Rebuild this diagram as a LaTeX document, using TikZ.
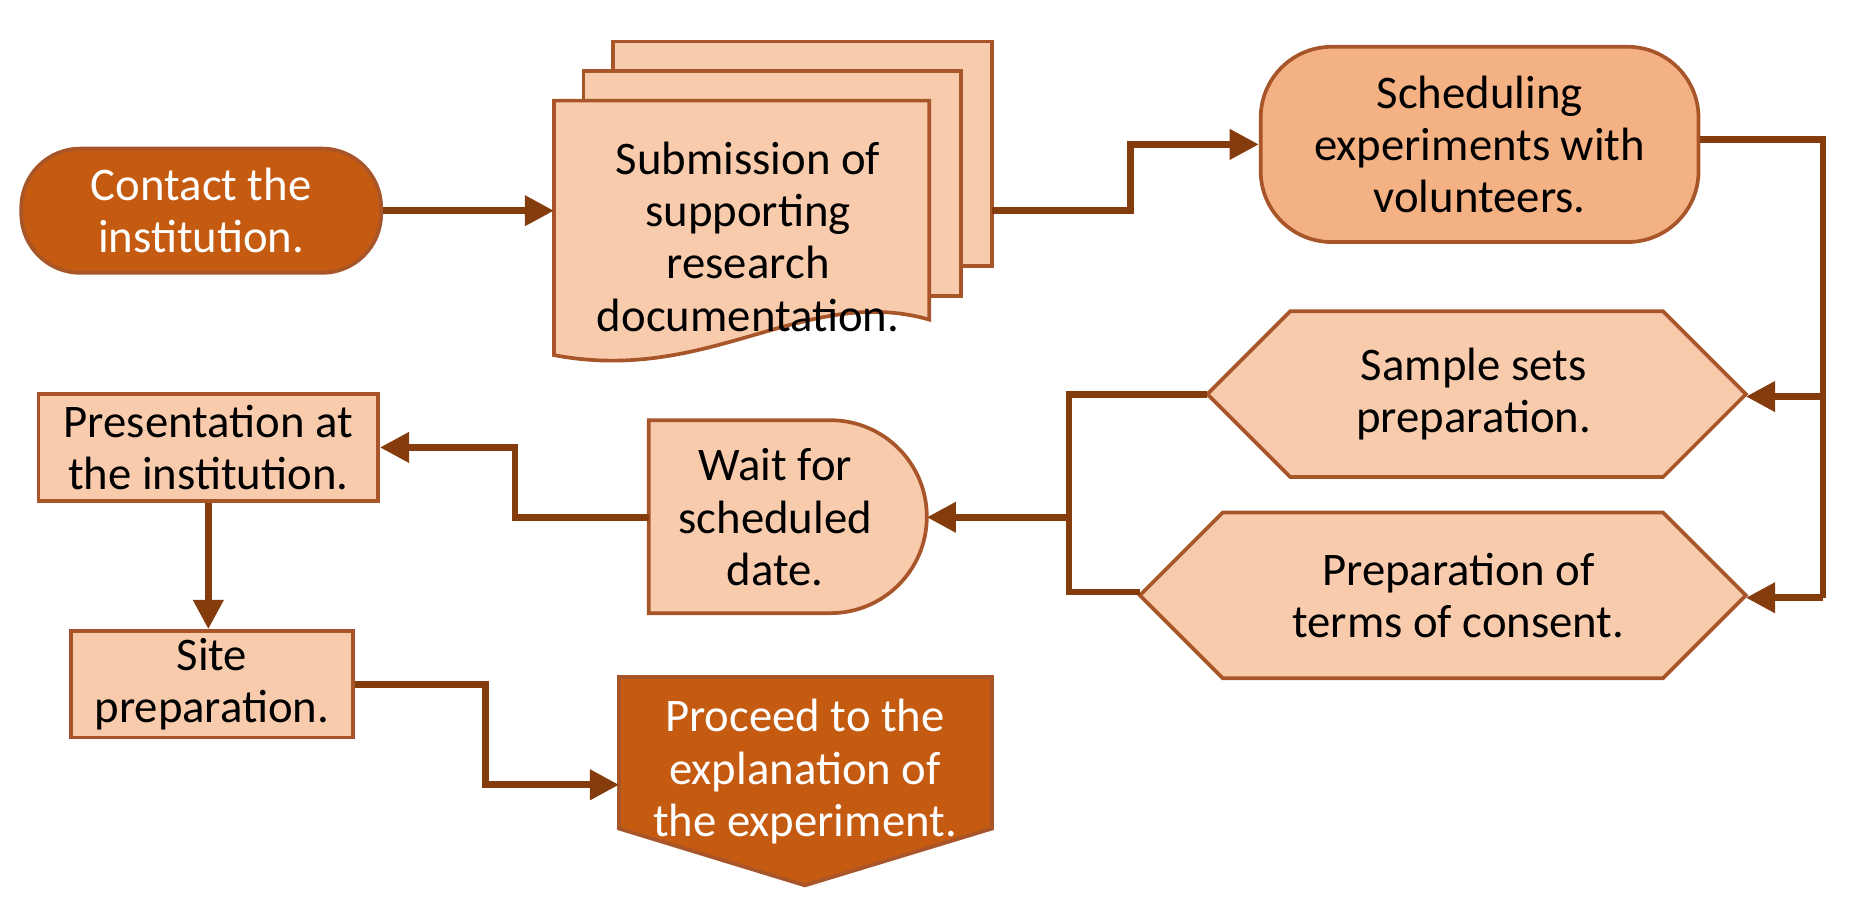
\documentclass[tikz,border=0pt]{standalone}
\usepackage{fontspec}
\setmainfont{Carlito}
\usetikzlibrary{arrows.meta}
\definecolor{dark}{HTML}{C55A11}
\definecolor{light}{HTML}{F8CBAD}
\definecolor{mid}{HTML}{F4B183}
\definecolor{line}{HTML}{843C0C}
\definecolor{edge}{HTML}{A8552A}
\begin{document}
\begin{tikzpicture}[x=0.011837cm,y=0.011837cm,
  box/.style={draw=edge, line width=1.05pt},
  txt/.style={align=center, font=\fontsize{13.3}{14.9}\selectfont, inner sep=0pt},
  flow/.style={draw=line, line width=1.9pt, -{Triangle[length=8.3pt,width=8.3pt]}},
  seg/.style={draw=line, line width=1.9pt}]
\useasboundingbox (0,0) rectangle (1568,-765.4);

% Contact
\node[box, fill=dark, rounded corners=0.59cm, minimum width=3.6cm, minimum height=1.243cm,
  txt, text=white] (contact) at (170,-178) {Contact the\\institution.};

% Document stack
\draw[box, fill=light] (518,-35) rectangle (838,-225);
\draw[box, fill=light] (493,-60) rectangle (812,-250);
\draw[box, fill=light] (468,-85) -- (785,-85) -- (785,-270)
  .. controls (680,-240) and (600,-325) .. (468,-300) -- cycle;
\node[txt] (doc) at (632,-200) {Submission of\\supporting\\research\\documentation.};
\coordinate (docL) at (468,-178);
\coordinate (docR) at (838,-178);

% Scheduling
\node[box, fill=mid, rounded corners=0.71cm, minimum width=4.38cm, minimum height=1.953cm,
  txt] (sched) at (1250,-122) {Scheduling\\experiments with\\volunteers.};

% Hexagons
\draw[box, fill=light] (1020,-333) -- (1090,-263) -- (1405,-263) -- (1475,-333)
  -- (1405,-403) -- (1090,-403) -- cycle;
\node[txt] (sample) at (1245,-333) {Sample sets\\preparation.};
\coordinate (sampleL) at (1020,-333);
\coordinate (sampleR) at (1475,-335);
\draw[box, fill=light] (963,-503) -- (1033,-433) -- (1405,-433) -- (1475,-503)
  -- (1405,-573) -- (1033,-573) -- cycle;
\node[txt] (terms) at (1232,-503) {Preparation of\\terms of consent.};
\coordinate (termsL) at (963,-500);
\coordinate (termsR) at (1475,-505);

% Wait (delay)
\draw[box, fill=light] (548,-355) -- (701.5,-355) arc[start angle=90,end angle=-90,radius=81.5]
  -- (548,-518) -- cycle;
\node[txt] (wait) at (655,-437) {Wait for\\scheduled\\date.};
\coordinate (waitL) at (548,-437);
\coordinate (waitR) at (783,-437);

% Presentation and site
\node[box, fill=light, minimum width=3.397cm, minimum height=1.065cm, txt] (pres) at (176,-378)
  {Presentation at\\the institution.};
\node[box, fill=light, minimum width=2.817cm, minimum height=1.065cm, txt] (site) at (179,-578)
  {Site\\preparation.};

% Proceed (off-page)
\draw[box, fill=dark] (523,-572) -- (838,-572) -- (838,-700) -- (680,-748) -- (523,-700) -- cycle;
\node[txt, text=white] (proc) at (680,-652) {Proceed to the\\explanation of\\the experiment.};
\coordinate (procL) at (523,-663);

% Connectors
\draw[flow] (contact.east) -- (docL);
\draw[flow] (docR) -- ++(117,0) |- (sched.west);
\coordinate (sj) at (1540,-118);
\draw[seg] (sched.east |- sj) -- (sj) -- (1540,-505);
\draw[flow] (1540,-335) -- (sampleR);
\draw[flow] (1540,-505) -- (termsR);
\draw[seg] (sampleL) -- (903,-333) |- (termsL);
\draw[flow] (903,-437) -- (waitR);
\draw[flow] (waitL) -- (435,-437) |- (pres.east);
\draw[flow] (pres.south) -- (pres.south |- site.north);
\draw[flow] (site.east) -- (410,-578) |- (procL);
\end{tikzpicture}
\end{document}
